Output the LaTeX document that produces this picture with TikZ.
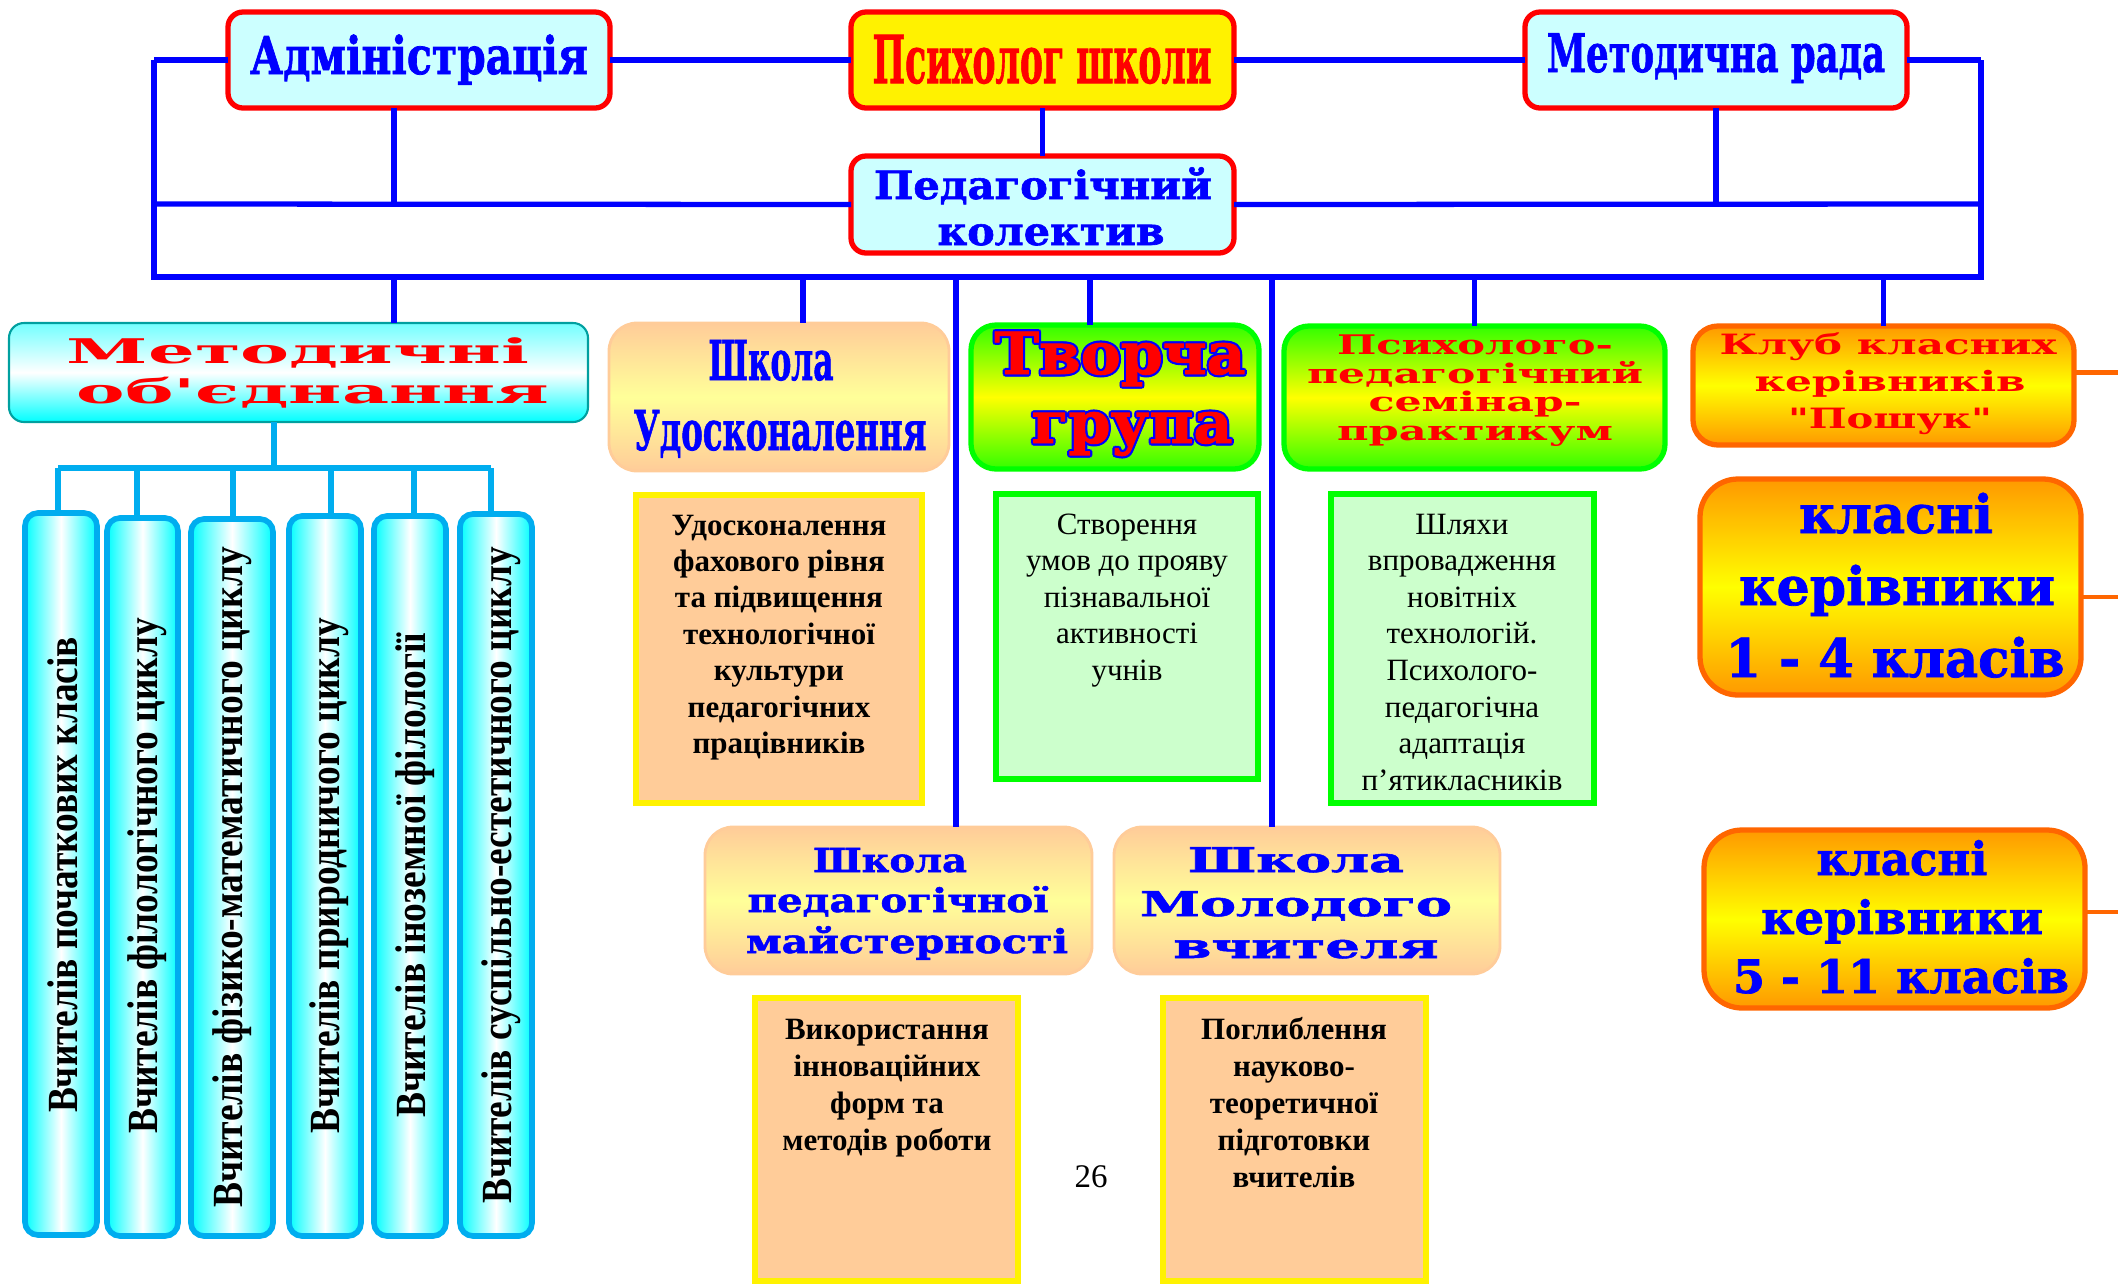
\documentclass[tikz,border=0pt]{standalone}
\usepackage{fontspec}
\setmainfont{Liberation Serif}
\newfontfamily\hv{DejaVu Serif}
\newfontfamily\hvx{DejaVu Serif}[FakeBold=1.5]
\usetikzlibrary{calc}
\newlength\PX \setlength\PX{0.01cm}
\newcommand\fsz[1]{\fontsize{#1\PX}{#1\PX}\selectfont}
\newcommand\hvb{\hv\bfseries}
\newcommand\hvxb{\hvx\bfseries}
\newcommand\Wd[2]{\resizebox{#1\PX}{\height}{#2}}
\newcommand\bx[6]{\node[#6, minimum width={(#4-#2)*0.01cm}, minimum height={(#5-#3)*0.01cm}] (#1) at ({(#2+#4)/2},{(#3+#5)/2}) {};}
\newcommand\putline[5]{\node[#1, anchor=base] (#2) at (#3,#4) {#5};}
\definecolor{cyfill}{HTML}{CCFFFF}
\definecolor{peach}{HTML}{FFCC99}
\definecolor{lyel}{HTML}{FFFF99}
\definecolor{gbright}{HTML}{00FF00}
\definecolor{gtop}{HTML}{33FF00}
\definecolor{lgreen}{HTML}{CCFFCC}
\definecolor{orline}{HTML}{FF6600}
\definecolor{ortop}{HTML}{FF9900}
\definecolor{teal2}{HTML}{00A0A0}
\tikzset{
 every node/.style={inner sep=0pt, outer sep=0pt},
 bl/.style={draw=blue, line width=1.5pt},
 cyl/.style={draw=cyan, line width=1.5pt},
 orl/.style={draw=orline, line width=1.3pt},
 topbox/.style={draw=red, line width=1.5pt, rounded corners=0.15cm, fill=cyfill},
 psybox/.style={topbox, fill=yellow},
 mobox/.style={draw=teal2, line width=0.6pt, rounded corners=0.15cm, top color=cyan!55, bottom color=cyan, middle color=white},
 colbox/.style={draw=cyan, line width=1.6pt, rounded corners=0.13cm, left color=cyan, right color=cyan, middle color=white},
 schbox/.style={draw=peach, line width=0.8pt, rounded corners=0.28cm, top color=peach, bottom color=peach, middle color=lyel},
 grbox/.style={draw=gbright, line width=1.5pt, rounded corners=0.25cm, top color=gtop, bottom color=gtop, middle color=yellow},
 orbox/.style={draw=orline, line width=1.5pt, rounded corners=0.25cm, top color=ortop, bottom color=ortop, middle color=yellow},
 orbig/.style={orbox, rounded corners=0.38cm},
 ytxt/.style={draw=yellow, line width=1.5pt, fill=peach},
 gtxt/.style={draw=gbright, line width=1.5pt, fill=lgreen},
 body/.style={font=\fsz{31}, text=black},
 bodyb/.style={font=\bfseries\fsz{31}, text=black},
 coltxt/.style={font=\bfseries\fsz{43}, text=black},
 hvt/.style={font={\hvb\fsz{#1}}},
 hvh/.style={font={\hvxb\fsz{#1}}},
}
\begin{document}
\begin{tikzpicture}[x=0.01cm,y=-0.01cm]
\fill[white] (0,0) rectangle (2118,1287);
\useasboundingbox (0,0) rectangle (2118,1287);
% bus coordinates
\coordinate (tl) at (154,60);
\coordinate (tr) at (1981,60);
\coordinate (ml) at (154,204);
\coordinate (mr) at (1981,204);
\coordinate (bl0) at (154,277);
\coordinate (br0) at (1981,277);
\coordinate (d1) at (394,277);
\coordinate (d2) at (803,277);
\coordinate (d3) at (956,277);
\coordinate (d4) at (1090,277);
\coordinate (d5) at (1272,277);
\coordinate (re) at (2118,0);
\coordinate (cb) at (274,468);
\coordinate (k1) at (58,468);
\coordinate (k2) at (137,468);
\coordinate (k3) at (233,468);
\coordinate (k4) at (331,468);
\coordinate (k5) at (414,468);
\coordinate (k6) at (491,468);
% boxes
\bx{adm}{228}{12}{610}{108}{topbox}
\bx{psy}{851}{12}{1234}{108}{psybox}
\bx{mrada}{1525}{12}{1907}{108}{topbox}
\bx{ped}{851}{156}{1234}{253}{topbox}
\bx{mo}{9}{323}{588}{422}{mobox}
\bx{shu}{609}{323}{949}{471}{schbox}
\bx{tg}{971}{325}{1259}{469}{grbox}
\bx{pps}{1284}{326}{1665}{469}{grbox}
\bx{klub}{1693}{326}{2074}{445}{orbox}
\bx{kk1}{1700}{479}{2081}{695}{orbig}
\bx{kk2}{1704}{830}{2085}{1008}{orbig}
\bx{shpm}{705}{827}{1092}{974}{schbox}
\bx{shmv}{1114}{827}{1500}{974}{schbox}
\bx{tb1}{636}{495}{922}{803}{ytxt}
\bx{tb2}{996}{494}{1258}{779}{gtxt}
\bx{tb3}{1331}{494}{1594}{803}{gtxt}
\bx{tb4}{755}{998}{1018}{1281}{ytxt}
\bx{tb5}{1163}{998}{1426}{1281}{ytxt}
\bx{c1}{25}{513}{97}{1235}{colbox}
\bx{c2}{107}{518}{178}{1236}{colbox}
\bx{c3}{191}{519}{273}{1236}{colbox}
\bx{c4}{289}{516}{361}{1236}{colbox}
\bx{c5}{374}{516}{446}{1236}{colbox}
\bx{c6}{460}{514}{532}{1236}{colbox}
% blue connectors
\draw[bl] (tl) -- (adm.west);
\draw[bl] (adm.east) -- (psy.west);
\draw[bl] (psy.east) -- (mrada.west);
\draw[bl] (mrada.east) -- (tr);
\draw[bl] (tl) -- (bl0) -- (br0) -- (tr);
\draw[bl] (ml) -- (ped.west);
\draw[bl] (ped.east) -- (mr);
\draw[bl] (adm.south -| d1) -- (d1 |- ml);
\draw[bl] (mrada.south) -- (mrada.south |- mr);
\draw[bl] (psy.south) -- (ped.north);
\draw[bl] (d1) -- (d1 |- mo.north);
\draw[bl] (d2) -- (d2 |- shu.north);
\draw[bl] (d3) -- (d3 |- shpm.north);
\draw[bl] (d4) -- (d4 |- tg.north);
\draw[bl] (d5) -- (d5 |- shmv.north);
\draw[bl] (pps.north |- bl0) -- (pps.north);
\draw[bl] (klub.north |- bl0) -- (klub.north);
% cyan connectors
\draw[cyl] (mo.south -| cb) -- (cb);
\draw[cyl] (k1) -- (k6);
\foreach \i in {1,...,6} {\draw[cyl] (k\i) -- (k\i |- c\i.north);}
% orange connectors
\draw[orl] ($(klub.east)+(0,-13)$) coordinate (o1) -- (o1 -| re);
\draw[orl] ($(kk1.east)+(0,10)$) coordinate (o2) -- (o2 -| re);
\draw[orl] ($(kk2.east)+(0,-7)$) coordinate (o3) -- (o3 -| re);
% top texts
\putline{hvh=52,text=blue}{adm-t}{419}{74}{\Wd{338}{Адміністрація}}
\putline{hvh=66,text=red}{psy-t}{1042}{83}{\Wd{339}{Психолог школи}}
\putline{hvh=53,text=blue}{mr-t}{1716}{72}{\Wd{338}{Методична рада}}
\putline{hvh=39,text=blue}{ped-t1}{1043}{199}{\Wd{338}{Педагогічний}}
\putline{hvh=39,text=blue}{ped-t2}{1051}{245}{\Wd{227}{колектив}}
% second row titles
\putline{hvt=34,text=red}{mo-t1}{298}{363}{\Wd{462}{Методичні}}
\putline{hvt=34,text=red}{mo-t2}{313}{403}{\Wd{473}{об'єднання}}
\putline{hvh=55,text=blue}{shu-t1}{771}{380}{\Wd{125}{Школа}}
\putline{hvh=55,text=blue}{shu-t2}{780}{450}{\Wd{293}{Удосконалення}}
\foreach \dx/\dy [count=\k] in {-2.2/0,2.2/0,0/-2.2,0/2.2,-1.6/-1.6,1.6/1.6,-1.6/1.6,1.6/-1.6} {
 \node[hvh=58, text=blue, anchor=base] (tg-oa\k) at ({1120+(\dx)},{374+(\dy)}) {\Wd{251}{Творча}};
 \node[hvh=58, text=blue, anchor=base] (tg-ob\k) at ({1132+(\dx)},{443+(\dy)}) {\Wd{201}{група}};
}
\putline{hvh=58,text=red}{tg-t1}{1120}{374}{\Wd{251}{Творча}}
\putline{hvh=58,text=red}{tg-t2}{1132}{443}{\Wd{201}{група}}
\putline{hvt=27,text=red}{pps-t1}{1475}{354}{\Wd{276}{Психолого-}}
\putline{hvt=27,text=red}{pps-t2}{1475}{383}{\Wd{336}{педагогічний}}
\putline{hvt=27,text=red}{pps-t3}{1475}{411}{\Wd{213}{семінар-}}
\putline{hvt=27,text=red}{pps-t4}{1475}{440}{\Wd{276}{практикум}}
\putline{hvt=28,text=red}{kl-t1}{1888}{354}{\Wd{337}{Клуб класних}}
\putline{hvt=28,text=red}{kl-t2}{1890}{391}{\Wd{271}{керівників}}
\putline{hvt=28,text=red}{kl-t3}{1890}{428}{\Wd{204}{"Пошук"}}
\putline{hvh=53,text=blue}{kk1-t1}{1896}{533}{\Wd{194}{класні}}
\putline{hvh=53,text=blue}{kk1-t2}{1897}{605}{\Wd{316}{керівники}}
\putline{hvh=53,text=blue}{kk1-t3}{1895}{677}{\Wd{339}{1 - 4 класів}}
\putline{hvh=46,text=blue}{kk2-t1}{1902}{875}{\Wd{171}{класні}}
\putline{hvh=46,text=blue}{kk2-t2}{1902}{934}{\Wd{282}{керівники}}
\putline{hvh=46,text=blue}{kk2-t3}{1901}{993}{\Wd{336}{5 - 11 класів}}
\putline{hvh=33,text=blue}{shpm-t1}{890}{872}{\Wd{154}{Школа}}
\putline{hvh=33,text=blue}{shpm-t2}{898}{912}{\Wd{301}{педагогічної}}
\putline{hvh=33,text=blue}{shpm-t3}{907}{953}{\Wd{322}{майстерності}}
\putline{hvh=34,text=blue}{shmv-t1}{1296}{872}{\Wd{216}{Школа}}
\putline{hvh=34,text=blue}{shmv-t2}{1296}{916}{\Wd{312}{Молодого}}
\putline{hvh=34,text=blue}{shmv-t3}{1306}{958}{\Wd{265}{вчителя}}
% body texts
\foreach \s [count=\i] in {Удосконалення,фахового рівня,та підвищення,технологічної,культури,педагогічних,працівників}%
 {\node[bodyb, anchor=base] (tb1-\i) at (779,{535+(\i-1)*36.4}) {\s};}
\foreach \s [count=\i] in {Створення,умов до прояву,пізнавальної,активності,учнів}%
 {\node[body, anchor=base] (tb2-\i) at (1127,{534+(\i-1)*36.6}) {\s};}
\foreach \s [count=\i] in {Шляхи,впровадження,новітніх,технологій.,Психолого-,педагогічна,адаптація,п’ятикласників}%
 {\node[body, anchor=base] (tb3-\i) at (1462,{534+(\i-1)*36.6}) {\s};}
\foreach \s [count=\i] in {Використання,інноваційних,форм та,методів роботи}%
 {\node[bodyb, anchor=base] (tb4-\i) at (887,{1039+(\i-1)*37}) {\s};}
\foreach \s [count=\i] in {Поглиблення,науково-,теоретичної,підготовки,вчителів}%
 {\node[bodyb, anchor=base] (tb5-\i) at (1294,{1039+(\i-1)*37}) {\s};}
\node[font=\fsz{33}, anchor=base] (pg) at (1091,1187) {26};
% column texts
\node[coltxt, rotate=90, anchor=base] (c1-t) at (77,874.5) {\Wd{475}{Вчителів початкових класів}};
\node[coltxt, rotate=90, anchor=base] (c2-t) at (157,875.5) {\Wd{515}{Вчителів філологічного циклу}};
\node[coltxt, rotate=90, anchor=base] (c3-t) at (242,877) {\Wd{660}{Вчителів фізико-математичного циклу}};
\node[coltxt, rotate=90, anchor=base] (c4-t) at (339,875.5) {\Wd{515}{Вчителів природничого циклу}};
\node[coltxt, rotate=90, anchor=base] (c5-t) at (425,875) {\Wd{484}{Вчителів іноземної філології}};
\node[coltxt, rotate=90, anchor=base] (c6-t) at (511,875) {\Wd{656}{Вчителів суспільно-естетичного циклу}};
\end{tikzpicture}
\end{document}
